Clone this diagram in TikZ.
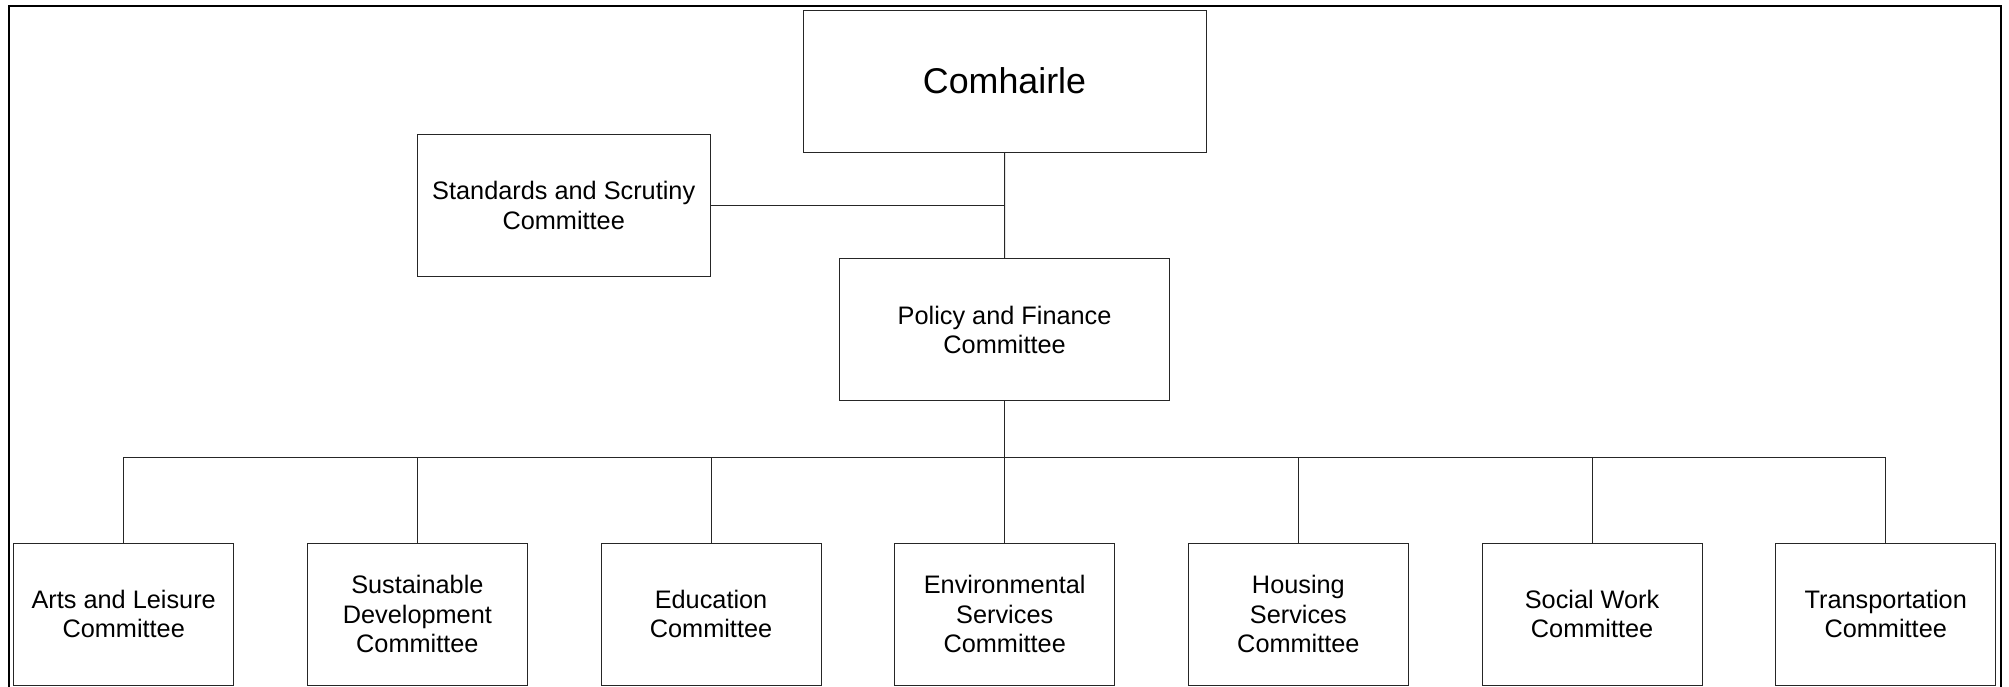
\documentclass[tikz,border=0pt]{standalone}
\usepackage{fontspec}
\setmainfont{Liberation Sans}
\begin{document}
\begin{tikzpicture}[x=1pt,y=1pt]
	\tikzstyle{orgbox} = [draw=black!85,line width=1pt,minimum height=142pt,align=center,inner sep=0pt,font=\fontsize{25.3}{29.5}\selectfont]
	\tikzstyle{unitbox} = [orgbox,minimum width=220pt]
	\tikzstyle{orgedge} = [draw=black!85,line width=1pt]

	\def\incx{293.67}
	\def\startx{123.7}
	\def\rowy{-614}

	\useasboundingbox (0,0) rectangle (2009,-686);
	\draw[line width=2.2pt] (9,-690) -- (9,-6) -- (2001,-6) -- (2001,-690);

	% NODES %
	\node[orgbox,minimum width=403pt,font=\fontsize{35.8}{42}\selectfont] (comhairle) at (1004.5,-81) {Comhairle};
	\node[orgbox,minimum width=293pt] (standards) at (563.7,-205.5) {Standards and Scrutiny\\Committee};
	\node[orgbox,minimum width=330pt] (policy) at (1004.6,-329.7) {Policy and Finance\\Committee};

	\node[unitbox] (arts) at (\startx+0*\incx,\rowy) {Arts and Leisure\\Committee};
	\node[unitbox] (sustain) at (\startx+1*\incx,\rowy) {Sustainable\\Development\\Committee};
	\node[unitbox] (education) at (\startx+2*\incx,\rowy) {Education\\Committee};
	\node[unitbox] (environ) at (\startx+3*\incx,\rowy) {Environmental\\Services\\Committee};
	\node[unitbox] (housing) at (\startx+4*\incx,\rowy) {Housing\\Services\\Committee};
	\node[unitbox] (social) at (\startx+5*\incx,\rowy) {Social Work\\Committee};
	\node[unitbox] (transport) at (\startx+6*\incx,\rowy) {Transportation\\Committee};

	\coordinate (bus) at (0,-457.4);

	% EDGES %
	%top
	\draw[orgedge] (comhairle.south) -- (policy.north);
	\draw[orgedge] (standards.east) -- (standards.east -| comhairle.south);
	%bus
	\draw[orgedge] (policy.south) -- (policy.south |- bus);
	\draw[orgedge] (arts.north) |- (transport.north |- bus) -- (transport.north);
	\draw[orgedge] (sustain.north) -- (sustain.north |- bus);
	\draw[orgedge] (education.north) -- (education.north |- bus);
	\draw[orgedge] (environ.north) -- (environ.north |- bus);
	\draw[orgedge] (housing.north) -- (housing.north |- bus);
	\draw[orgedge] (social.north) -- (social.north |- bus);
\end{tikzpicture}
\end{document}
